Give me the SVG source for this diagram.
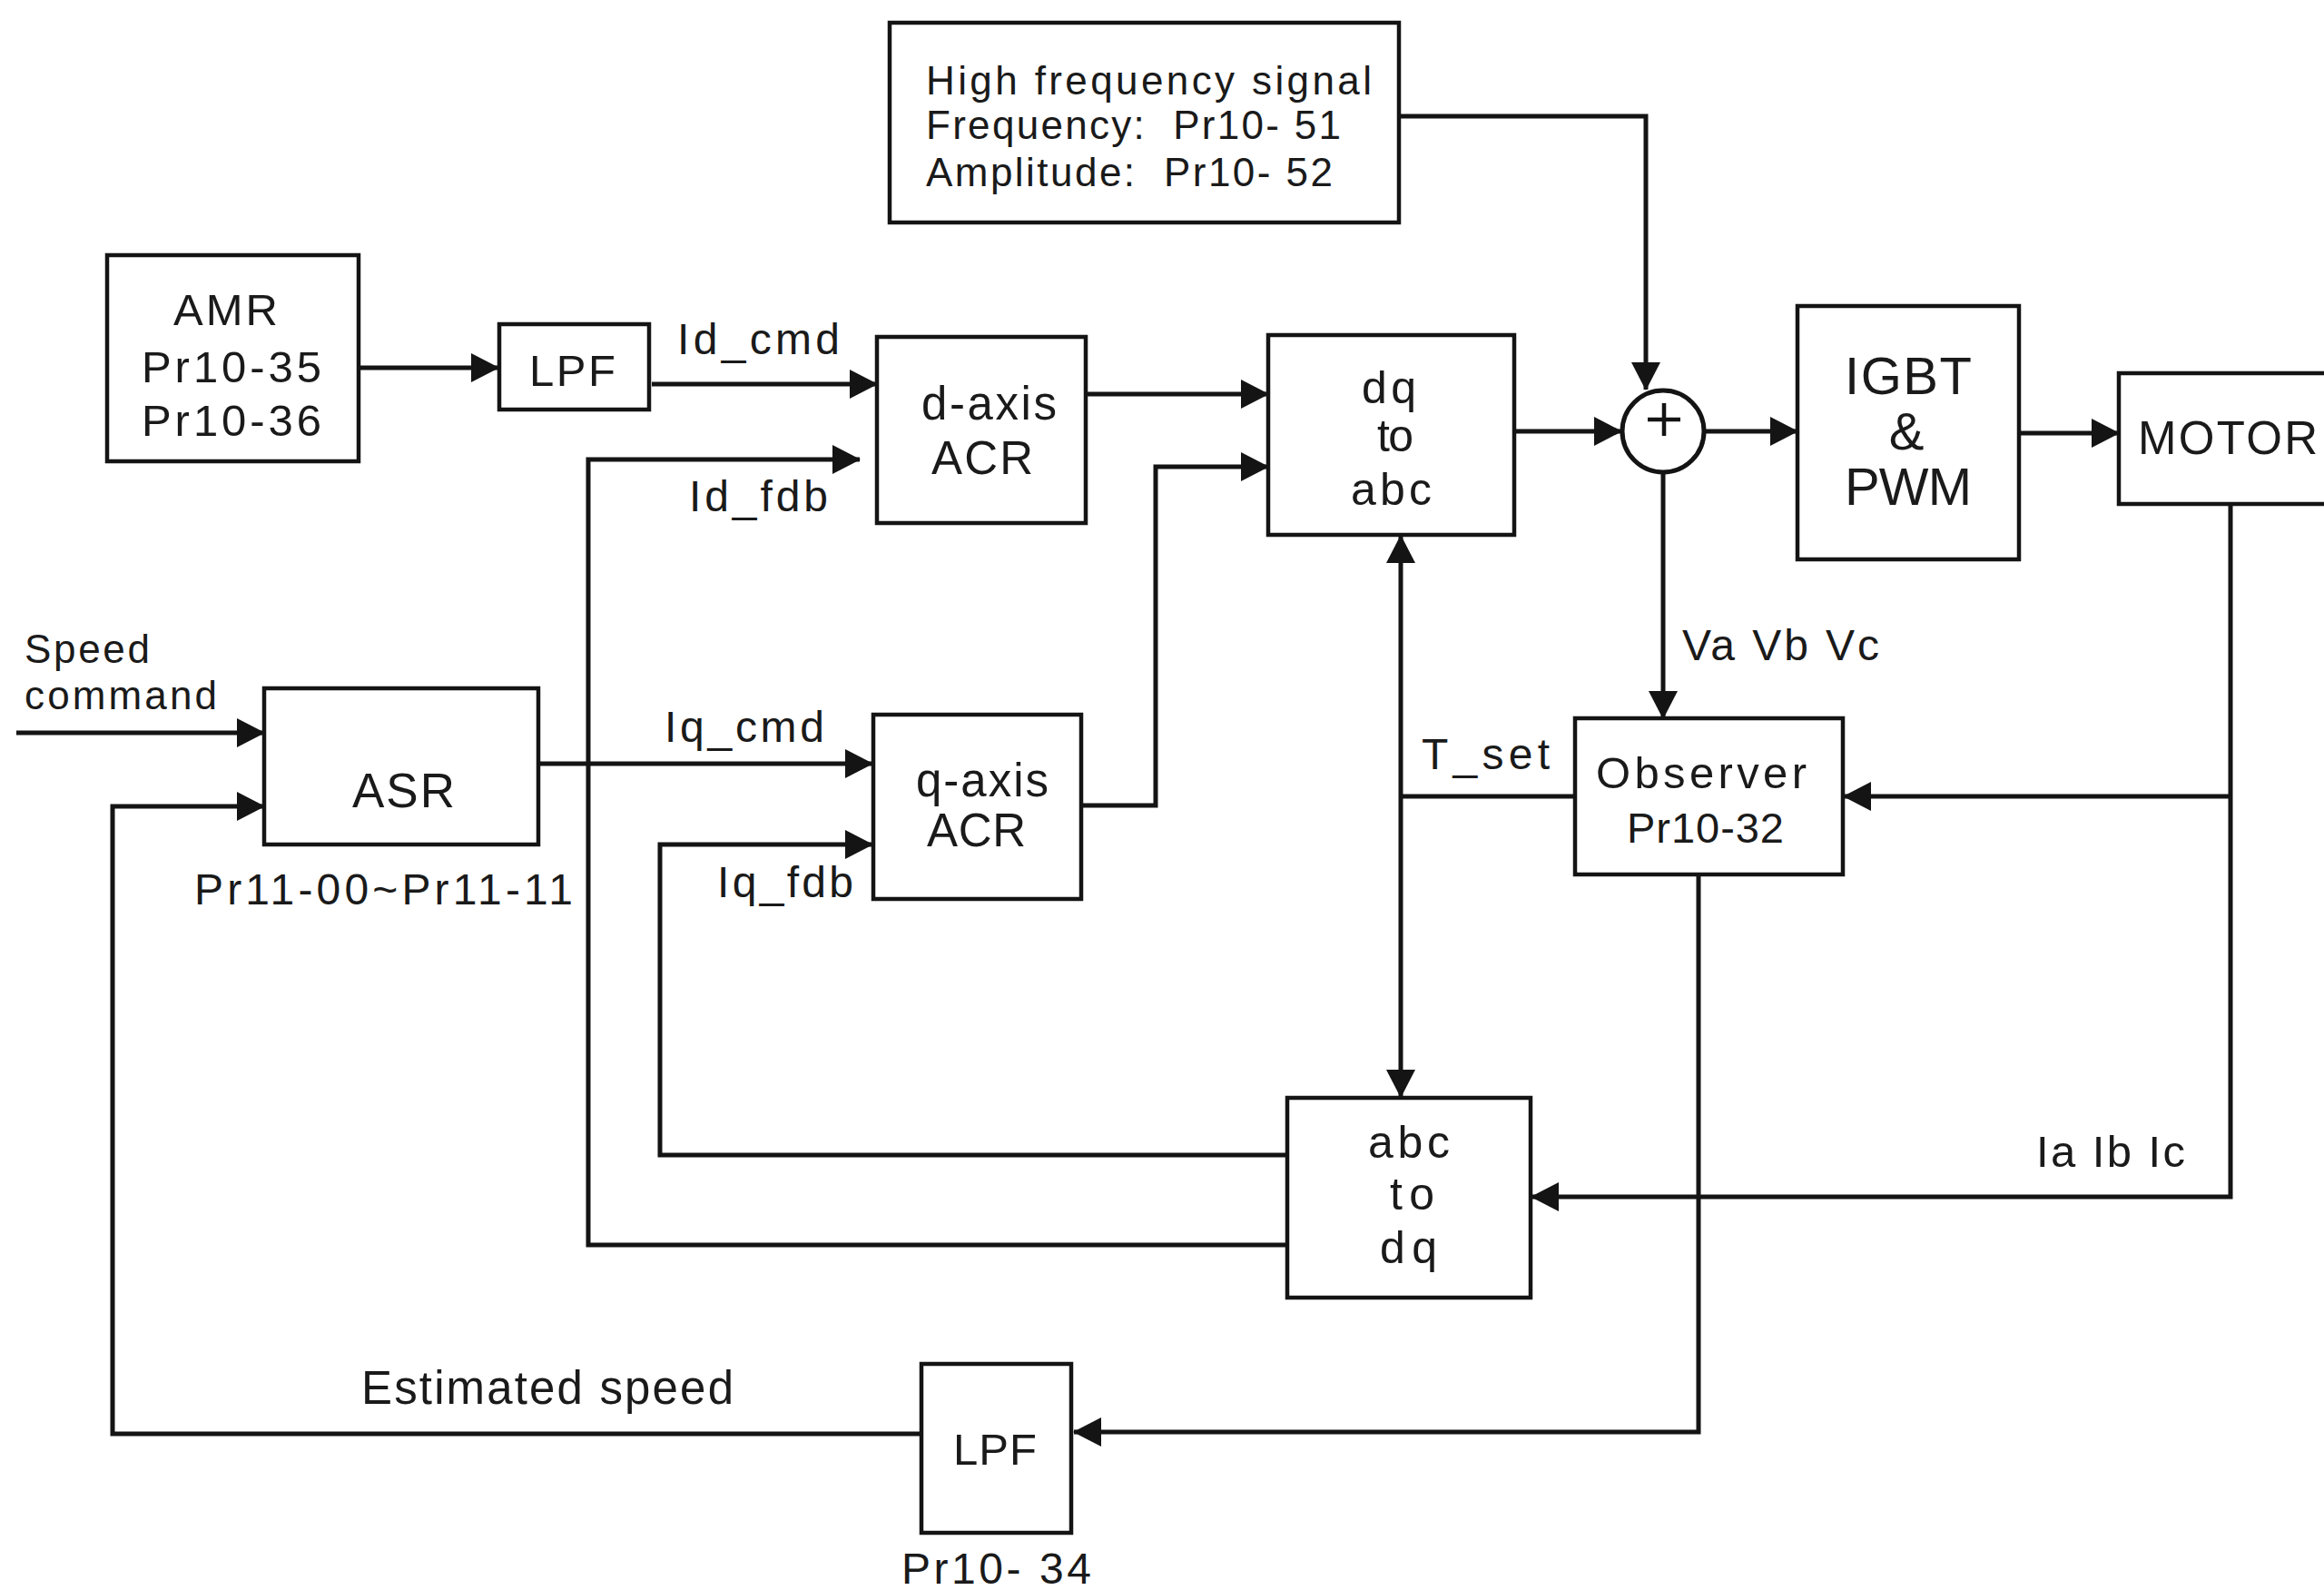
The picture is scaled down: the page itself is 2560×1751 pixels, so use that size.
<svg xmlns="http://www.w3.org/2000/svg" width="2560" height="1751" viewBox="0 0 2560 1751">
<defs>
<style>
.box{fill:none;stroke:#141414;stroke-width:4.5}
.ln{fill:none;stroke:#141414;stroke-width:5;stroke-linejoin:miter}
.ar{marker-end:url(#ah)}
.t{font-family:"Liberation Sans",Arial,Helvetica,sans-serif;fill:#1a1a1a;white-space:pre}
</style>
<marker id="ah" markerUnits="userSpaceOnUse" markerWidth="32" markerHeight="34" viewBox="0 0 32 34" refX="30" refY="17" orient="auto-start-reverse">
<path d="M0,1 L31,17 L0,33 z" fill="#141414"/>
</marker>
</defs>
<rect width="2560" height="1751" fill="#ffffff"/>

<g id="connectors">
<path class="ln ar" d="M395,405 H549"/>
<path class="ln ar" d="M718,423 H966"/>
<path class="ln ar" d="M1418,1371 H648 V506 H947"/>
<path class="ln ar" d="M1418,1272 H727 V930 H961"/>
<path class="ln ar" d="M593,841 H961"/>
<path class="ln ar" d="M18,807 H291"/>
<path class="ln ar" d="M1015,1579 H124 V888 H291"/>
<path class="ln ar" d="M1871,963 V1577 H1183"/>
<path class="ln ar" d="M1196,434 H1397"/>
<path class="ln ar" d="M1191,887 H1273 V514 H1397"/>
<path class="ln ar" d="M1668,475 H1786"/>
<path class="ln ar" d="M1541,128 H1813 V429"/>
<path class="ln ar" d="M1878,475 H1980"/>
<path class="ln ar" d="M2224,477 H2334"/>
<path class="ln ar" d="M1832,521 V791"/>
<path class="ln ar" d="M2457,555 V1318 H1687"/>
<path class="ln ar" d="M2457,877 H2031"/>
<path class="ln" d="M1735,877 H1543"/>
<path class="ln" d="M1543,590 V1208" marker-start="url(#ah)" marker-end="url(#ah)"/>
</g>

<g id="amr">
<rect class="box" x="118" y="281" width="277" height="227"/>
<text class="t" x="191" y="358" font-size="49" textLength="115">AMR</text>
<text class="t" x="156" y="421" font-size="49" textLength="198">Pr10-35</text>
<text class="t" x="156" y="480" font-size="49" textLength="198">Pr10-36</text>
</g>

<g id="lpf1">
<rect class="box" x="550" y="357" width="165" height="94"/>
<text class="t" x="583" y="425" font-size="49" textLength="95">LPF</text>
</g>

<g id="d-axis-acr">
<rect class="box" x="966" y="371" width="230" height="205"/>
<text class="t" x="1015" y="462" font-size="51" textLength="149">d-axis</text>
<text class="t" x="1026" y="522" font-size="51" textLength="112">ACR</text>
</g>

<g id="q-axis-acr">
<rect class="box" x="962" y="787" width="229" height="203"/>
<text class="t" x="1009" y="877" font-size="51" textLength="146">q-axis</text>
<text class="t" x="1021" y="932" font-size="51" textLength="109">ACR</text>
</g>

<g id="dq-to-abc">
<rect class="box" x="1397" y="369" width="271" height="220"/>
<text class="t" x="1500" y="444" font-size="50" textLength="60">dq</text>
<text class="t" x="1517" y="497" font-size="50" textLength="40">to</text>
<text class="t" x="1488" y="556" font-size="50" textLength="89">abc</text>
</g>

<g id="high-frequency-signal">
<rect class="box" x="980" y="25" width="561" height="220"/>
<text class="t" x="1020" y="104" font-size="44" textLength="491">High frequency signal</text>
<text class="t" x="1020" y="153" font-size="44" textLength="457">Frequency:  Pr10- 51</text>
<text class="t" x="1020" y="205" font-size="44" textLength="448">Amplitude:  Pr10- 52</text>
</g>

<g id="sum">
<circle cx="1832" cy="475" r="45" fill="none" stroke="#141414" stroke-width="5"/>
<path d="M1815,462 H1851 M1833,444 V480" stroke="#141414" stroke-width="4.5" fill="none"/>
</g>

<g id="igbt-pwm">
<rect class="box" x="1980" y="337" width="244" height="279"/>
<text class="t" x="2032" y="434" font-size="58" textLength="140">IGBT</text>
<text class="t" x="2100" y="495" font-size="58" text-anchor="middle">&amp;</text>
<text class="t" x="2032" y="556" font-size="58" textLength="140">PWM</text>
</g>

<g id="motor">
<rect class="box" x="2334" y="411" width="240" height="144"/>
<text class="t" x="2355" y="500" font-size="51" textLength="198">MOTOR</text>
</g>

<g id="observer">
<rect class="box" x="1735" y="791" width="295" height="172"/>
<text class="t" x="1758" y="868" font-size="49" textLength="232">Observer</text>
<text class="t" x="1792" y="928" font-size="47" textLength="173">Pr10-32</text>
</g>

<g id="abc-to-dq">
<rect class="box" x="1418" y="1209" width="268" height="220"/>
<text class="t" x="1507" y="1275" font-size="50" textLength="90">abc</text>
<text class="t" x="1531" y="1332" font-size="50" textLength="49">to</text>
<text class="t" x="1520" y="1391" font-size="50" textLength="63">dq</text>
</g>

<g id="asr">
<rect class="box" x="291" y="758" width="302" height="172"/>
<text class="t" x="388" y="889" font-size="53" textLength="113">ASR</text>
<text class="t" x="214" y="996" font-size="48" textLength="417">Pr11-00~Pr11-11</text>
</g>

<g id="lpf2">
<rect class="box" x="1015" y="1502" width="165" height="186"/>
<text class="t" x="1050" y="1613" font-size="49" textLength="92">LPF</text>
<text class="t" x="993" y="1744" font-size="48" textLength="209">Pr10- 34</text>
</g>

<g id="labels">
<text class="t" x="746" y="390" font-size="48" textLength="179">Id_cmd</text>
<text class="t" x="759" y="563" font-size="48" textLength="153">Id_fdb</text>
<text class="t" x="732" y="817" font-size="48" textLength="176">Iq_cmd</text>
<text class="t" x="790" y="988" font-size="48" textLength="150">Iq_fdb</text>
<text class="t" x="27" y="730" font-size="44" textLength="138">Speed</text>
<text class="t" x="27" y="781" font-size="44" textLength="212">command</text>
<text class="t" x="398" y="1546" font-size="51" textLength="410">Estimated speed</text>
<text class="t" x="1853" y="727" font-size="48" textLength="217">Va Vb Vc</text>
<text class="t" x="1566" y="847" font-size="48" textLength="141">T_set</text>
<text class="t" x="2243" y="1285" font-size="49" textLength="164">Ia Ib Ic</text>
</g>
</svg>
